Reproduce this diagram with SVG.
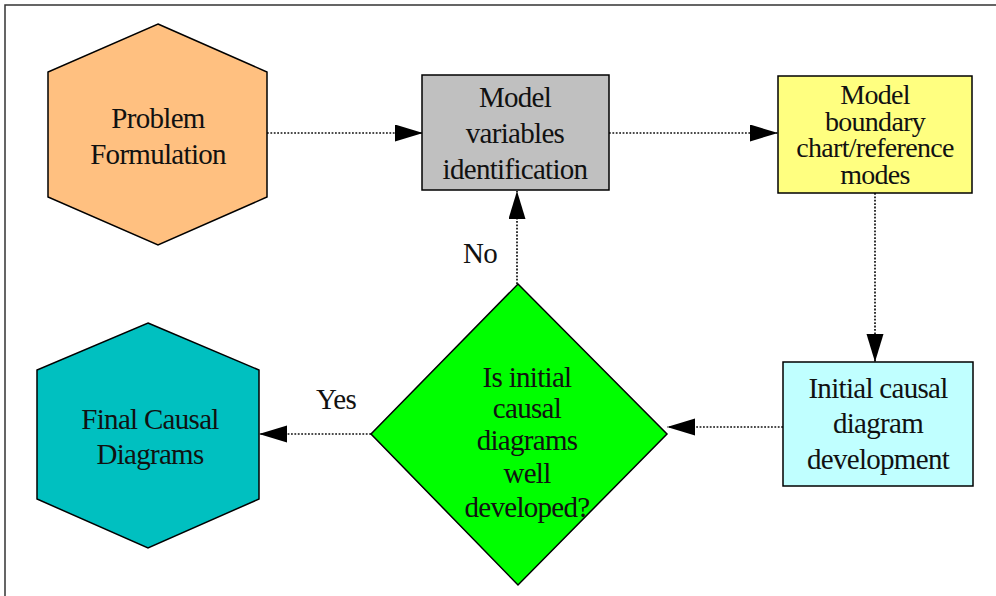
<svg xmlns="http://www.w3.org/2000/svg" width="996" height="596" viewBox="0 0 996 596">
  <style>
    .shape { stroke: #000; stroke-width: 1.5; }
    .lbl { font-family: "Liberation Serif", "Times New Roman", serif; font-size: 29px; fill: #111; text-anchor: middle; letter-spacing: -0.7px; }
    .tight { font-size: 28px; }
    .conn { fill: none; stroke: #111; stroke-width: 1.7; stroke-dasharray: 1.8 1.6; }
  </style>
  <defs>
    <marker id="arrow" markerUnits="userSpaceOnUse" markerWidth="28" markerHeight="18" refX="28" refY="8.5" orient="auto">
      <path d="M0,0 L28,8.5 L0,17 Z" fill="#000"/>
    </marker>
  </defs>

  <rect width="996" height="596" fill="#fff"/>
  <!-- page frame -->
  <rect x="5" y="5" width="1100" height="700" fill="none" stroke="#333" stroke-width="1.5"/>

  <g id="connectors">
    <line class="conn" x1="267" y1="133" x2="423" y2="133" marker-end="url(#arrow)"/>
    <line class="conn" x1="609" y1="133" x2="778" y2="133" marker-end="url(#arrow)"/>
    <line class="conn" x1="875" y1="193" x2="875" y2="362" marker-end="url(#arrow)"/>
    <line class="conn" x1="783" y1="427" x2="667" y2="427" marker-end="url(#arrow)"/>
    <line class="conn" x1="517" y1="284" x2="517" y2="191" marker-end="url(#arrow)"/>
    <line class="conn" x1="371" y1="434" x2="259" y2="434" marker-end="url(#arrow)"/>
    <text class="lbl" x="480" y="263">No</text>
    <text class="lbl" x="336" y="409">Yes</text>
  </g>

  <g id="problem-formulation">
    <polygon class="shape" fill="#ffc080" points="158,24 267,72 267,197 158,245 48,197 48,72"/>
    <text class="lbl" x="158" y="128">Problem</text>
    <text class="lbl" x="158" y="164">Formulation</text>
  </g>

  <g id="model-variables">
    <rect class="shape" fill="#c0c0c0" x="422" y="75" width="187" height="115"/>
    <text class="lbl" x="515" y="107">Model</text>
    <text class="lbl" x="515" y="143">variables</text>
    <text class="lbl" x="515" y="179">identification</text>
  </g>

  <g id="model-boundary">
    <rect class="shape" fill="#ffff80" x="778" y="76" width="194" height="117"/>
    <text class="lbl tight" x="875" y="104">Model</text>
    <text class="lbl tight" x="875" y="131">boundary</text>
    <text class="lbl tight" x="875" y="157">chart/reference</text>
    <text class="lbl tight" x="875" y="184">modes</text>
  </g>

  <g id="initial-causal">
    <rect class="shape" fill="#c0ffff" x="783" y="362" width="190" height="124"/>
    <text class="lbl" x="878" y="398">Initial causal</text>
    <text class="lbl" x="878" y="433">diagram</text>
    <text class="lbl" x="878" y="469">development</text>
  </g>

  <g id="decision">
    <polygon class="shape" fill="#00ff00" points="518,284 667,434 518,585 371,434"/>
    <text class="lbl" x="527" y="387">Is initial</text>
    <text class="lbl" x="527" y="418">causal</text>
    <text class="lbl" x="527" y="450">diagrams</text>
    <text class="lbl" x="527" y="483">well</text>
    <text class="lbl" x="527" y="517">developed?</text>
  </g>

  <g id="final-causal">
    <polygon class="shape" fill="#00c0c0" points="148,323 259,370 259,499 148,548 37,499 37,370"/>
    <text class="lbl" x="150" y="429">Final Causal</text>
    <text class="lbl" x="150" y="464">Diagrams</text>
  </g>
</svg>
